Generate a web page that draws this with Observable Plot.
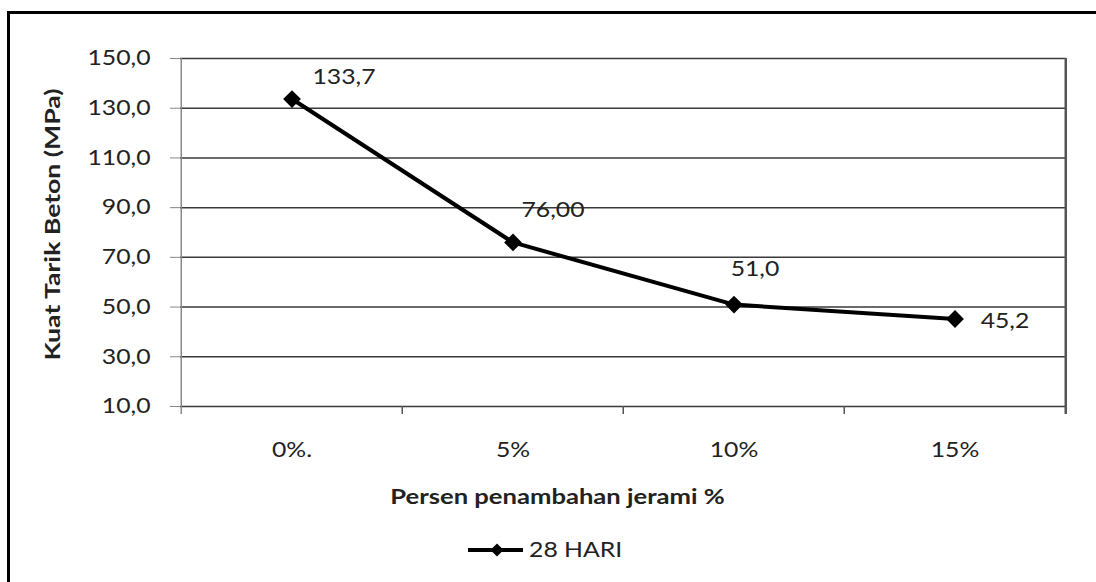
<!DOCTYPE html>
<html>
<head>
<meta charset="utf-8">
<script src="https://cdn.jsdelivr.net/npm/d3@7"></script>
<script src="https://cdn.jsdelivr.net/npm/@observablehq/plot@0.6"></script>
<style>
  html, body { margin: 0; padding: 0; background: #fff; }
  #wrap { position: relative; width: 1096px; height: 582px; overflow: hidden; }
  #border { position: absolute; left: 7px; top: 11px; right: -20px; bottom: -20px;
            border-top: 3px solid #000; border-left: 3px solid #000; pointer-events: none; }
  #chart { position: absolute; left: 0; top: 0; }
</style>
</head>
<body>
<div id="wrap"><div id="chart"></div><div id="border"></div></div>
<script>
// ---- data ----
const categories = ["0%.", "5%", "10%", "15%"];
const values = [133.7, 76.0, 51.0, 45.2];
const valueLabels = ["133,7", "76,00", "51,0", "45,2"];
const yTicks = [10, 30, 50, 70, 90, 110, 130, 150];
const seriesName = "28 HARI";
const xTitle = "Persen penambahan jerami %";
const yTitle = "Kuat Tarik Beton (MPa)";

const data = categories.map((c, i) => ({cat: c, value: values[i], label: valueLabels[i]}));

// ---- layout ----
const W = 1096, H = 582;
const mL = 180, mR = 30, mT = 58, mB = 176;
const bw = (W - mL - mR) / categories.length;
const labelOffsets = [[52, -22], [40, -32], [21, -35], [50, 2]];
const textColor = "#222";
const fs = 21;
const fsTitle = 20;

function legendMark(index, scales, values, dims) {
  const g = d3.create("svg:g");
  const cx = dims.marginLeft + (dims.width - dims.marginLeft - dims.marginRight) / 2;
  const x0 = cx - 155, y0 = dims.height - 32;
  g.append("line").attr("x1", x0).attr("x2", x0 + 55).attr("y1", y0).attr("y2", y0)
    .attr("stroke", "#000").attr("stroke-width", 4);
  g.append("path").attr("d", d3.symbol(d3.symbolDiamond2, 110)())
    .attr("transform", `translate(${x0 + 29},${y0})`).attr("fill", "#000");
  g.append("text").attr("x", x0 + 61).attr("y", y0).attr("dy", "0.35em")
    .attr("text-anchor", "start")
    .attr("font-size", fs).attr("fill", textColor).text(seriesName);
  return g.node();
}

const plot = Plot.plot({
  width: W, height: H,
  marginLeft: mL, marginRight: mR, marginTop: mT, marginBottom: mB,
  style: {fontFamily: "Lato", fontSize: fs + "px", color: textColor, background: "transparent"},
  x: {type: "band", domain: categories, padding: 0},
  y: {domain: [10, 150]},
  marks: [
    Plot.gridY(yTicks, {stroke: "#3a3a3a", strokeOpacity: 1, strokeWidth: 1.5}),
    Plot.axisY(yTicks, {
      tickFormat: d => d.toFixed(1).replace(".", ","),
      tickSize: 10, tickPadding: 20, stroke: "#888", fill: textColor, fontSize: fs, label: null
    }),
    Plot.axisX({tickSize: 0, tickPadding: 36, fill: textColor, fontSize: fs, label: null}),
    // interior category boundary ticks
    Plot.ruleX(categories.slice(1), {dx: -bw / 2, y1: 10, y2: 10, insetBottom: -8, stroke: "#555", strokeWidth: 1.5}),
    // left axis line
    Plot.ruleX([categories[0]], {dx: -bw / 2, y1: 150, y2: 10, insetBottom: -8, stroke: "#8a8a8a", strokeWidth: 1.5}),
    // right border line
    Plot.ruleX([categories[categories.length - 1]], {dx: bw / 2, y1: 150, y2: 10, insetBottom: -8, stroke: "#555", strokeWidth: 2.5}),
    Plot.lineY(data, {x: "cat", y: "value", stroke: "#000", strokeWidth: 4}),
    Plot.dot(data, {x: "cat", y: "value", symbol: "diamond2", r: 8, fill: "#000", stroke: null}),
    ...data.map((d, i) => Plot.text([d], {
      x: "cat", y: "value", text: "label",
      dx: labelOffsets[i][0], dy: labelOffsets[i][1], fill: textColor, fontSize: fs
    })),
    Plot.text([xTitle], {frameAnchor: "bottom", dx: -66, dy: 97, fontWeight: "bold", fill: textColor, fontSize: fsTitle}),
    Plot.text([yTitle], {frameAnchor: "left", rotate: -90, textAnchor: "start", dx: -127, dy: 128, fontWeight: "bold", fill: textColor, fontSize: fsTitle}),
    legendMark
  ]
});

document.getElementById("chart").appendChild(plot);

// widen text glyphs to match the reference's broad lettering
plot.querySelectorAll("text").forEach(el => {
  const bold = el.closest('[font-weight="bold"]') !== null;
  const rotated = (el.getAttribute("transform") || "").includes("rotate");
  const stretch = bold ? (rotated ? 1.33 : 1.28) : 1.18;
  const L = el.getComputedTextLength();
  if (L > 0) {
    el.setAttribute("textLength", (L * stretch).toFixed(1));
    el.setAttribute("lengthAdjust", "spacingAndGlyphs");
  }
});
</script>
</body>
</html>
